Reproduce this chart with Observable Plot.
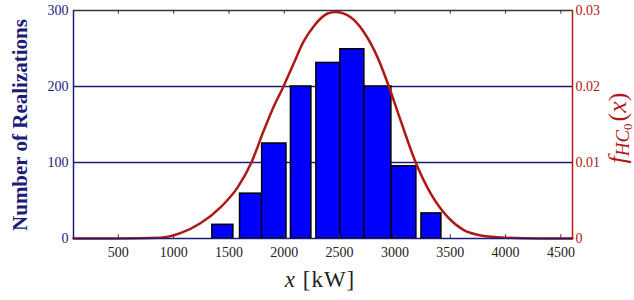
<!DOCTYPE html>
<html><head><meta charset="utf-8">
<script src="https://cdn.jsdelivr.net/npm/d3@7"></script>
<script src="https://cdn.jsdelivr.net/npm/@observablehq/plot@0.6"></script>
<style>body{margin:0;background:#fff}</style>
</head><body><div id="chart"></div>
<script>
// Histogram bins (kW) and counts
const binStart = [1350, 1600, 1800, 2060, 2290, 2507, 2724, 2968, 3240];
const binEnd   = [1540, 1800, 2020, 2245, 2507, 2724, 2968, 3194, 3420];
const counts   = [18, 59, 125, 200, 231, 249, 200, 95, 33];
// Density curve points
const curveX = [95, 500, 880, 1061, 1242, 1423, 1577, 1703, 1812, 1903, 1993, 2084, 2174, 2265, 2392, 2464, 2600, 2717, 2844, 2943, 3052, 3188, 3324, 3478, 3622, 3776, 4000, 4300, 4605];
const curveF = [0, 0, 0.0001, 0.0007, 0.0020, 0.0041, 0.0067, 0.0100, 0.0141, 0.0173, 0.0200, 0.0230, 0.0259, 0.0279, 0.0296, 0.0298, 0.0291, 0.0272, 0.0238, 0.0201, 0.0155, 0.0100, 0.0059, 0.0028, 0.0011, 0.0004, 0.0001, 0, 0];
// Tick values
const xTicks = [500, 1000, 1500, 2000, 2500, 3000, 3500, 4000, 4500];
const yTicks = [0, 100, 200, 300];
const fTicks = [0, 0.01, 0.02, 0.03];

const serif = "Liberation Serif";
const navy = "#1c1c78", red = "#b01818";
const bars = counts.map((c, i) => ({x1: binStart[i], x2: binEnd[i], n: c}));
const curve = curveX.map((x, i) => ({x, f: curveF[i]}));
const fScale = 300 / 0.03;
const xDom = [95, 4605];

const plot = Plot.plot({
  width: 634, height: 300,
  marginLeft: 73, marginRight: 62, marginTop: 10, marginBottom: 62,
  style: "font-family: 'Liberation Serif', serif; background: #fff;",
  x: {domain: xDom},
  y: {domain: [0, 300]},
  marks: [
    Plot.ruleY([100, 200], {stroke: navy, strokeWidth: 1.3}),
    Plot.rectY(bars, {x1: "x1", x2: "x2", y1: 0, y2: "n", fill: "#0000ff", stroke: "#000", strokeWidth: 1.5}),
    Plot.ruleX(xTicks, {y1: 0, y2: 5, stroke: "#333", strokeWidth: 1}),
    Plot.ruleX(xTicks, {y1: 295, y2: 300, stroke: "#333", strokeWidth: 1}),
    Plot.ruleY([300], {stroke: "#333", strokeWidth: 1.3}),
    Plot.line(curve, {x: "x", y: d => d.f * fScale, stroke: red, strokeWidth: 2.5, curve: "monotone-x"}),
    Plot.ruleY([0], {stroke: navy, strokeWidth: 1.3}),
    Plot.ruleX([xDom[0]], {stroke: navy, strokeWidth: 1.5}),
    Plot.ruleX([xDom[1]], {stroke: red, strokeWidth: 1.5}),
    Plot.axisX({ticks: xTicks, tickFormat: d => String(d), tickSize: 0, tickPadding: 9, fontSize: 14, fontFamily: serif, label: null, fill: "#222"}),
    Plot.axisY({ticks: yTicks, tickFormat: d => String(d), anchor: "left", tickSize: 0, tickPadding: 5, fontSize: 14, fontFamily: serif, label: null, fill: navy}),
    Plot.axisY(fTicks.map(f => f * fScale), {anchor: "right", tickSize: 0, tickPadding: 3, fontSize: 14, fontFamily: serif, label: null, fill: red,
      tickFormat: d => { const f = fTicks[Math.round(d / 100)]; return f === 0 ? "0" : f.toFixed(2); }})
  ]
});

const svg = d3.select(plot);
svg.append("text")
  .attr("transform", "translate(27,125) rotate(-90)")
  .attr("text-anchor", "middle")
  .attr("font-family", serif)
  .attr("font-weight", "bold").attr("font-size", 21).attr("fill", navy)
  .text("Number of Realizations");

const xl = svg.append("text")
  .attr("x", 320).attr("y", 287)
  .attr("text-anchor", "middle")
  .attr("font-family", serif)
  .attr("font-size", 23).attr("letter-spacing", 1).attr("fill", "#222");
xl.append("tspan").attr("font-style", "italic").text("x");
xl.append("tspan").text(" [kW]");

const fl = svg.append("text")
  .attr("transform", "translate(626,128) rotate(-90)")
  .attr("text-anchor", "middle")
  .attr("font-family", serif)
  .attr("font-size", 26).attr("fill", red);
fl.append("tspan").attr("font-style", "italic").text("f");
fl.append("tspan").attr("font-style", "italic").attr("font-size", 19).attr("dy", 3).text("HC");
fl.append("tspan").attr("font-size", 13).attr("dy", 3).text("0");
fl.append("tspan").attr("dy", -6).attr("dx", 2).text("(");
fl.append("tspan").attr("font-style", "italic").text("x");
fl.append("tspan").text(")");

document.getElementById("chart").appendChild(plot);
</script>
</body></html>
